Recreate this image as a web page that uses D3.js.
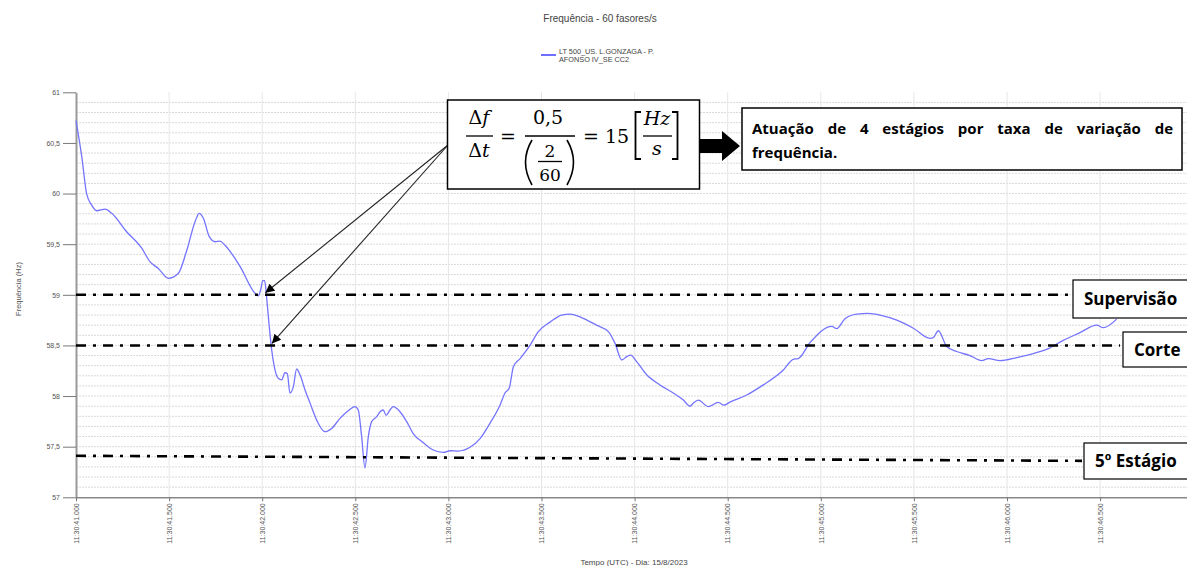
<!DOCTYPE html>
<html><head><meta charset="utf-8">
<script src="https://cdn.jsdelivr.net/npm/d3@7"></script>
<style>body{margin:0;background:#fff}svg{display:block}</style>
</head><body>
<svg id="c" width="1187" height="566"></svg>
<script>
// ---- data ----
const times = [41.000,41.031,41.057,41.084,41.111,41.156,41.192,41.272,41.353,41.397,41.442,41.496,41.549,41.595,41.639,41.662,41.684,41.716,41.747,41.773,41.800,41.881,41.961,41.979,41.992,42.003,42.013,42.020,42.024,42.038,42.051,42.065,42.086,42.105,42.122,42.135,42.149,42.167,42.185,42.203,42.230,42.257,42.293,42.337,42.373,42.418,42.462,42.498,42.516,42.534,42.552,42.570,42.588,42.615,42.633,42.650,42.665,42.686,42.704,42.740,42.776,42.811,42.865,42.919,42.973,43.009,43.053,43.116,43.170,43.223,43.277,43.304,43.327,43.349,43.385,43.438,43.483,43.546,43.608,43.653,43.724,43.796,43.859,43.895,43.931,43.958,43.979,44.011,44.065,44.136,44.208,44.262,44.298,44.315,44.342,44.396,44.449,44.480,44.512,44.602,44.691,44.799,44.852,44.879,44.942,45.059,45.085,45.130,45.193,45.255,45.318,45.408,45.497,45.586,45.604,45.631,45.676,45.730,45.801,45.864,45.900,45.962,46.052,46.141,46.213,46.302,46.392,46.482,46.517,46.589];
const freqs = [60.72,60.364,60.00,59.887,59.83,59.847,59.805,59.623,59.46,59.327,59.26,59.163,59.21,59.44,59.72,59.805,59.756,59.574,59.524,59.53,59.49,59.28,59.015,58.99,59.05,59.14,59.14,59.05,58.97,58.685,58.455,58.29,58.175,58.16,58.23,58.22,58.03,58.09,58.267,58.21,58.06,57.93,57.76,57.648,57.68,57.78,57.855,57.895,57.862,57.60,57.29,57.60,57.747,57.796,57.845,57.862,57.81,57.862,57.895,57.845,57.747,57.63,57.54,57.467,57.444,57.46,57.457,57.494,57.58,57.73,57.91,58.03,58.08,58.29,58.37,58.50,58.636,58.73,58.80,58.81,58.768,58.70,58.636,58.52,58.356,58.39,58.405,58.34,58.21,58.11,58.03,57.96,57.90,57.93,57.96,57.895,57.938,57.91,57.94,58.01,58.11,58.257,58.363,58.37,58.527,58.688,58.666,58.764,58.81,58.817,58.80,58.75,58.67,58.57,58.576,58.645,58.49,58.44,58.40,58.35,58.37,58.35,58.38,58.42,58.46,58.55,58.626,58.70,58.675,58.76];
const xTicks = [41.0,41.5,42.0,42.5,43.0,43.5,44.0,44.5,45.0,45.5,46.0,46.5];
const xTickLabels = ["11:30:41.000","11:30:41.500","11:30:42.000","11:30:42.500","11:30:43.000","11:30:43.500","11:30:44.000","11:30:44.500","11:30:45.000","11:30:45.500","11:30:46.000","11:30:46.500"];
const yTicks = [57,57.5,58,58.5,59,59.5,60,60.5,61];
const yTickLabels = ["57","57,5","58","58,5","59","59,5","60","60,5","61"];
const thresholdStart = [59,58.5,57.41];
const thresholdEnd = [59,58.5,57.36];
const thresholdLabels = ["Supervisão","Corte","5º Estágio"];
const seriesName = ["LT 500_US. L.GONZAGA - P.","AFONSO IV_SE CC2"];
const title = "Frequência - 60 fasores/s";
const yTitle = "Frequência (Hz)";
const xTitle = "Tempo (UTC) - Dia: 15/8/2023";
const noteText = "Atuação de 4 estágios por taxa de variação de";
const noteText2 = "frequência.";

// ---- layout ----
const svg = d3.select("#c");
const L = 76, R = 1187, T = 92.3, B = 497.3;
const x = d3.scaleLinear().domain([41, 41 + (R - L) / 186.2]).range([L, R]);
const y = d3.scaleLinear().domain([57, 61]).range([B, T]);
const sans = "'Liberation Sans', Arial, sans-serif";

// grid
const g = svg.append("g");
g.selectAll("line.hg").data(d3.range(571, 610).map(v => v / 10)).join("line")
  .attr("x1", L).attr("x2", R).attr("y1", d => y(d)).attr("y2", d => y(d))
  .attr("stroke", "#d9d9d9").attr("stroke-width", 1).attr("stroke-dasharray", "2,1");
g.selectAll("line.vg").data(xTicks.slice(1)).join("line")
  .attr("x1", d => x(d)).attr("x2", d => x(d)).attr("y1", T).attr("y2", B)
  .attr("stroke", "#e6e6e6").attr("stroke-width", 1);

// axes
const ya = svg.append("g").attr("transform", `translate(${L},0)`)
  .call(d3.axisLeft(y).tickValues(yTicks).tickFormat((d, i) => yTickLabels[i]).tickSize(13).tickSizeOuter(0));
ya.select(".domain").attr("stroke", "#999").attr("stroke-width", 2);
ya.selectAll(".tick line").attr("stroke", "#777");
ya.selectAll(".tick text").attr("font-family", sans).attr("font-size", 7).attr("fill", "#555").attr("x", -16);

const xa = svg.append("g").attr("transform", `translate(0,${B})`)
  .call(d3.axisBottom(x).tickValues(xTicks).tickFormat((d, i) => xTickLabels[i]).tickSize(4).tickSizeOuter(0));
xa.select(".domain").attr("stroke", "#888").attr("stroke-width", 1.5);
xa.selectAll(".tick line").attr("stroke", "#777");
xa.selectAll(".tick text").attr("font-family", sans).attr("font-size", 7).attr("fill", "#555")
  .attr("transform", "rotate(-90)").attr("text-anchor", "end").attr("dy", "0.32em").attr("y", 0).attr("x", -6);

// titles
svg.append("text").attr("x", 600).attr("y", 22).attr("text-anchor", "middle")
  .attr("font-family", sans).attr("font-size", 10).attr("fill", "#444").text(title);
svg.append("text").attr("transform", "translate(21,289) rotate(-90)").attr("text-anchor", "middle")
  .attr("font-family", sans).attr("font-size", 7.5).attr("fill", "#555").text(yTitle);
svg.append("text").attr("x", 634).attr("y", 565).attr("text-anchor", "middle")
  .attr("font-family", sans).attr("font-size", 8).attr("fill", "#444").text(xTitle);

// legend
svg.append("line").attr("x1", 541).attr("x2", 556).attr("y1", 55).attr("y2", 55)
  .attr("stroke", "#6f6fff").attr("stroke-width", 2);
svg.append("text").attr("x", 559).attr("y", 53.5).attr("font-family", sans).attr("font-size", 7.3).attr("fill", "#444").text(seriesName[0]);
svg.append("text").attr("x", 559).attr("y", 61.5).attr("font-family", sans).attr("font-size", 7.3).attr("fill", "#444").text(seriesName[1]);

// series
const pts = times.map((t, i) => [t, freqs[i]]);
svg.append("path").datum(pts)
  .attr("d", d3.line().x(d => x(d[0])).y(d => y(d[1])).curve(d3.curveMonotoneX))
  .attr("fill", "none").attr("stroke", "#7474ff").attr("stroke-width", 1.3);

// thresholds
const lineEnds = [1072, 1120, 1082];
const boxes = [{x: 1073, y: 280, h: 38}, {x: 1123, y: 332, h: 35}, {x: 1084, y: 443, h: 36}];
thresholdStart.forEach((v, i) => {
  svg.append("line").attr("x1", L).attr("x2", lineEnds[i])
    .attr("y1", y(v)).attr("y2", y(thresholdEnd[i]))
    .attr("stroke", "#000").attr("stroke-width", 2.6).attr("stroke-dasharray", "10,7,3,7");
  const b = boxes[i];
  svg.append("rect").attr("x", b.x).attr("y", b.y).attr("width", 1187 - b.x + 5).attr("height", b.h)
    .attr("fill", "#fff").attr("stroke", "#000").attr("stroke-width", 1.2);
  svg.append("text").attr("x", b.x + 11).attr("y", b.y + b.h / 2 + 6)
    .attr("font-family", "'Open Sans', sans-serif").attr("font-weight", 700).attr("font-size", 17)
    .attr("fill", "#000").text(thresholdLabels[i]);
});

// thin arrows
const defs = svg.append("defs");
defs.append("marker").attr("id", "ah").attr("viewBox", "0 0 10 10").attr("refX", 10).attr("refY", 5)
  .attr("markerWidth", 12).attr("markerHeight", 9).attr("markerUnits", "userSpaceOnUse").attr("orient", "auto")
  .append("path").attr("d", "M0,0 L10,5 L0,10 Z").attr("fill", "#000");
[[x(42.017), y(59.0)], [x(42.052), y(58.5)]].forEach(p => {
  svg.append("line").attr("x1", 448).attr("y1", 145).attr("x2", p[0]).attr("y2", p[1] - 2)
    .attr("stroke", "#222").attr("stroke-width", 1.1).attr("marker-end", "url(#ah)");
});

// formula box
svg.append("rect").attr("x", 447.5).attr("y", 100).attr("width", 252).attr("height", 89)
  .attr("fill", "#fff").attr("stroke", "#000").attr("stroke-width", 1.5);
const serif = "'DejaVu Serif', serif";
const ft = (tx, xx, yy, size, italic) => svg.append("text").attr("x", xx).attr("y", yy).attr("text-anchor", "middle")
  .attr("font-family", serif).attr("font-size", size).attr("font-style", italic ? "italic" : "normal").attr("fill", "#000").text(tx);
const bar = (x1, x2, yy) => svg.append("line").attr("x1", x1).attr("x2", x2).attr("y1", yy).attr("y2", yy).attr("stroke", "#000").attr("stroke-width", 1.3);
svg.append("text").attr("x", 479).attr("y", 124).attr("text-anchor", "middle").attr("font-family", serif).attr("font-size", 19)
  .call(t => { t.append("tspan").text("Δ"); t.append("tspan").attr("font-style", "italic").text("f"); });
bar(466, 493, 136);
svg.append("text").attr("x", 479).attr("y", 157).attr("text-anchor", "middle").attr("font-family", serif).attr("font-size", 19)
  .call(t => { t.append("tspan").text("Δ"); t.append("tspan").attr("font-style", "italic").text("t"); });
ft("=", 508, 143, 19, false);
ft("0,5", 548, 124, 19, false);
bar(525, 575, 136);
svg.append("path").attr("d", "M532,140 Q519,162 532,185").attr("fill", "none").attr("stroke", "#000").attr("stroke-width", 1.6);
svg.append("path").attr("d", "M567,140 Q580,162 567,185").attr("fill", "none").attr("stroke", "#000").attr("stroke-width", 1.6);
ft("2", 550, 157, 17, false);
bar(538, 562, 161.5);
ft("60", 550, 181, 17, false);
ft("=", 591, 143, 19, false);
ft("15", 617, 143, 19, false);
svg.append("path").attr("d", "M641,112 H635.5 V159 H641").attr("fill", "none").attr("stroke", "#000").attr("stroke-width", 1.8);
svg.append("path").attr("d", "M672,112 H677.5 V159 H672").attr("fill", "none").attr("stroke", "#000").attr("stroke-width", 1.8);
ft("Hz", 657, 125, 19, true);
bar(643, 672, 136);
ft("s", 657, 155, 19, true);

// thick arrow
svg.append("path").attr("d", "M700,139 H722 V131 L740,146 L722,161 V153 H700 Z").attr("fill", "#000");

// note box
svg.append("rect").attr("x", 742).attr("y", 108).attr("width", 440).attr("height", 62)
  .attr("fill", "#fff").attr("stroke", "#000").attr("stroke-width", 1.5);
const words = noteText.split(" ");
const wg = svg.append("g").attr("font-family", "'Open Sans', sans-serif").attr("font-weight", 700).attr("font-size", 15).attr("fill", "#000");
const ws = words.map(w => wg.append("text").attr("y", 134).text(w));
const widths = ws.map(s => s.node().getComputedTextLength());
const x0 = 752, x1 = 1173;
const gap = (x1 - x0 - d3.sum(widths)) / (words.length - 1);
let cx = x0;
ws.forEach((s, i) => { s.attr("x", cx); cx += widths[i] + gap; });
wg.append("text").attr("x", x0).attr("y", 158).text(noteText2);
</script>
</body></html>
